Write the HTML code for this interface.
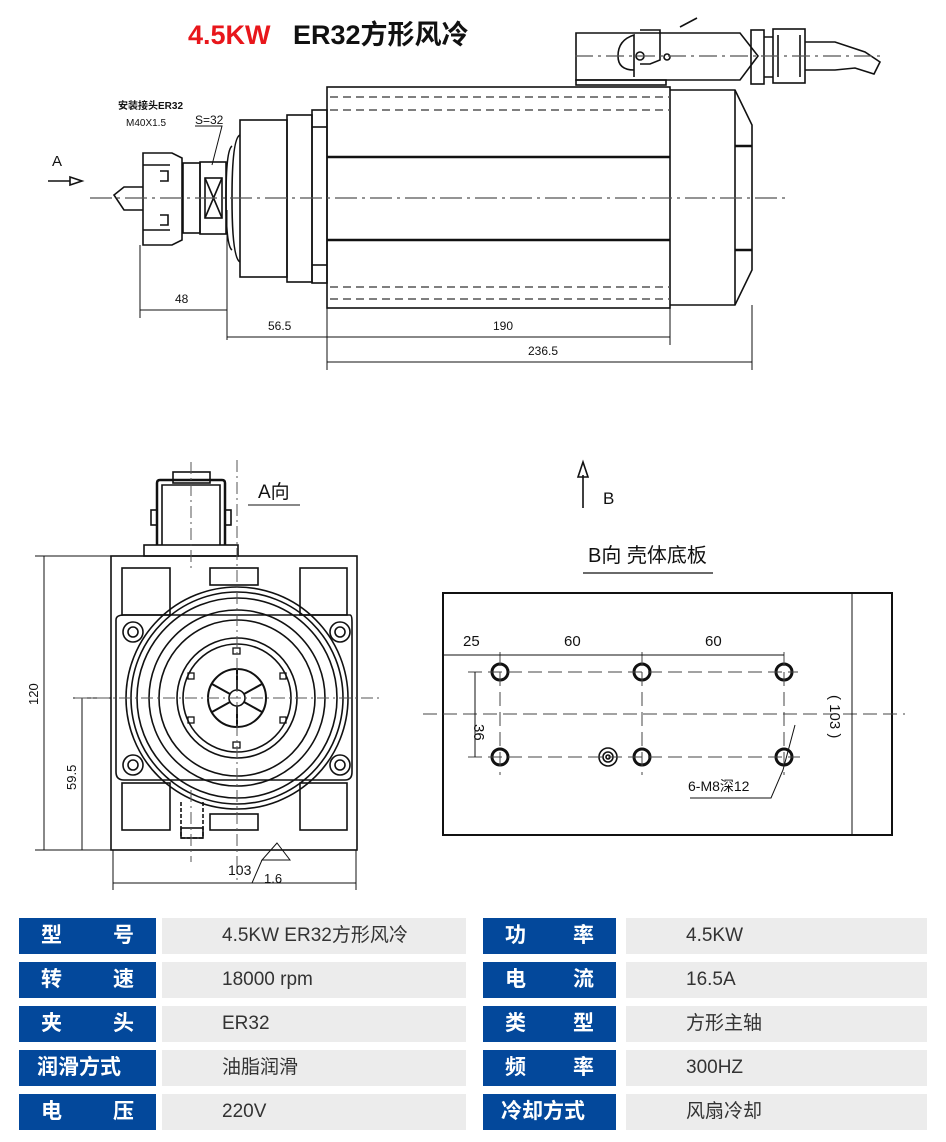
<!DOCTYPE html>
<html><head><meta charset="utf-8"><style>
body{margin:0;background:#fff;width:946px;height:1142px;overflow:hidden;position:relative;font-family:"Liberation Sans","Noto Sans CJK SC",sans-serif}
svg{position:absolute;left:0;top:0}
.t{position:absolute;height:36px;line-height:36px;font-size:19px}
.l{background:#03489b;color:#fff;font-weight:bold;font-size:21px;box-sizing:border-box;padding:0 22px;display:flex;justify-content:space-between}
.v{background:#ececec;color:#333;padding-left:60px;box-sizing:border-box}
</style></head><body>
<svg width="946" height="900" viewBox="0 0 946 900" font-family="Liberation Sans Narrow,Liberation Sans,Noto Sans CJK SC,sans-serif">
<text x="188" y="44" font-size="27" font-weight="bold" fill="#e8161b" font-family="Liberation Sans,sans-serif">4.5KW</text>
<text x="293" y="44" font-size="27" font-weight="bold" fill="#111" font-family="Liberation Sans,Noto Sans CJK SC,sans-serif">ER32方形风冷</text>
<g stroke="#111" fill="none" stroke-width="1.6">
<!-- top view body -->
<rect x="327" y="87" width="343" height="221"/>
<line x1="327" y1="157" x2="670" y2="157" stroke-width="2.5"/>
<line x1="327" y1="240" x2="670" y2="240" stroke-width="2.5"/>
<g stroke-dasharray="8,5" stroke="#555"><line x1="330" y1="97" x2="670" y2="97"/><line x1="330" y1="110" x2="670" y2="110"/><line x1="330" y1="287" x2="670" y2="287"/><line x1="330" y1="299" x2="670" y2="299"/></g>
<path d="M670 90 H735 L752 125 V270 L735 305 H670"/>
<line x1="735" y1="90" x2="735" y2="305"/>
<line x1="735" y1="146" x2="752" y2="146" stroke-width="2.5"/><line x1="735" y1="250" x2="752" y2="250" stroke-width="2.5"/>
<rect x="312" y="110" width="15" height="173"/>
<line x1="312" y1="127" x2="327" y2="127"/><line x1="312" y1="265" x2="327" y2="265"/>
<rect x="287" y="115" width="25" height="167"/>
<rect x="240" y="120" width="47" height="157"/>
<path d="M240 135 Q232 138 232 198 Q232 258 240 262"/>
<path d="M232 146 Q226 150 226 198 Q226 246 232 250"/>
<rect x="200" y="162" width="26" height="72"/><path d="M205 178 L222 218 M222 178 L205 218"/><rect x="205" y="178" width="17" height="40"/>
<rect x="183" y="163" width="17" height="70"/>
<path d="M143 153 H172 L182 158 V240 L172 245 H143 Z"/>
<line x1="143" y1="165" x2="170" y2="165"/><line x1="143" y1="230" x2="170" y2="230"/>
<path d="M160 171 H168 V181 H160 M160 215 H168 V225 H160"/>
<path d="M143 187 H124 L114 195 L124 210 H143"/>
<!-- connector -->
<path d="M576 80 V33 H740 L758 56 L740 80 Z"/>
<rect x="751" y="30" width="13" height="54"/><rect x="773" y="29" width="32" height="54"/>
<path d="M764 37 H773 M764 77 H773 M778 35 V77 M800 35 V77"/>
<path d="M805 42 L835 42 L865 52 L880 62 L874 74 L855 68 L835 70 L805 70"/>
<path d="M634 77 V35 Q618 40 618 56 Q618 70 634 70 M640 30 H660 V60 L650 64 H640"/>
<circle cx="640" cy="56" r="4"/><circle cx="667" cy="57" r="3"/>
<line x1="680" y1="27" x2="697" y2="18"/>
<rect x="576" y="80" width="90" height="5"/>
<!-- centerline -->
<line x1="90" y1="198" x2="790" y2="198" stroke="#555" stroke-dasharray="22,5,3,5" stroke-width="1.2"/>
<line x1="575" y1="56" x2="880" y2="56" stroke="#555" stroke-dasharray="18,5,3,5" stroke-width="1.2"/>
<!-- A arrow -->
<path d="M48 181 H70 M70 177 L82 181 L70 185 Z"/>
<!-- dims -->
<g stroke-width="1">
<line x1="140" y1="245" x2="140" y2="318"/><line x1="227" y1="210" x2="227" y2="340"/>
<line x1="140" y1="310" x2="227" y2="310"/>
<line x1="327" y1="308" x2="327" y2="370"/><line x1="670" y1="308" x2="670" y2="345"/><line x1="752" y1="305" x2="752" y2="370"/>
<line x1="227" y1="337" x2="327" y2="337"/><line x1="327" y1="337" x2="670" y2="337"/><line x1="327" y1="362" x2="752" y2="362"/>
</g>
<!-- S=32 leader -->
<path d="M195 126 H222 L212 165" stroke-width="1"/>
</g>
<g fill="#111" font-size="13">
<text x="52" y="166" font-size="15">A</text>
<text x="175" y="303" font-size="12">48</text>
<text x="268" y="330" font-size="12">56.5</text>
<text x="493" y="330" font-size="12">190</text>
<text x="528" y="355" font-size="12">236.5</text>
<text x="195" y="124" font-size="12">S=32</text>
<text x="118" y="109" font-size="10" font-weight="bold">安装接头ER32</text>
<text x="126" y="126" font-size="10">M40X1.5</text>
</g>

<!-- A view -->
<g stroke="#111" fill="none" stroke-width="1.6">
<rect x="111" y="556" width="246" height="294"/>
<rect x="122" y="568" width="48" height="47"/><rect x="210" y="568" width="48" height="17"/><rect x="300" y="568" width="47" height="47"/>
<rect x="122" y="783" width="48" height="47"/><rect x="210" y="814" width="48" height="16"/><rect x="300" y="783" width="47" height="47"/>
<path d="M116 620 Q116 615 124 615 H350 Q352 615 352 622 V772 Q352 780 345 780 H124 Q116 780 116 772 Z"/>
<circle cx="237" cy="698" r="111"/><circle cx="237" cy="698" r="106"/><circle cx="237" cy="698" r="100"/><circle cx="237" cy="698" r="88"/><circle cx="237" cy="698" r="78"/>
<circle cx="237" cy="698" r="60"/><circle cx="237" cy="698" r="54"/><circle cx="237" cy="698" r="29" stroke-width="2"/><circle cx="237" cy="698" r="8"/>
<path d="M237 690 V669 M237 706 V727 M244 694 L262 684 M230 694 L212 684 M244 702 L262 712 M230 702 L212 712" stroke-width="2"/>
<g stroke-width="1.3"><rect x="233" y="648" width="7" height="6"/><rect x="233" y="742" width="7" height="6"/><rect x="188" y="673" width="6" height="6"/><rect x="280" y="673" width="6" height="6"/><rect x="188" y="717" width="6" height="6"/><rect x="280" y="717" width="6" height="6"/></g>
<g><circle cx="133" cy="632" r="10"/><circle cx="133" cy="632" r="5"/><circle cx="340" cy="632" r="10"/><circle cx="340" cy="632" r="5"/><circle cx="133" cy="765" r="10"/><circle cx="133" cy="765" r="5"/><circle cx="340" cy="765" r="10"/><circle cx="340" cy="765" r="5"/></g>
<rect x="173" y="472" width="37" height="11"/>
<path d="M157 545 V483 Q157 480 160 480 H222 Q225 480 225 483 V545" stroke-width="2.5"/>
<path d="M162 545 V485 H220 V545"/>
<rect x="144" y="545" width="94" height="11"/>
<rect x="151" y="510" width="6" height="15"/><rect x="225" y="510" width="6" height="15"/>
<path d="M181 802 V838 H203 V802" stroke-dasharray="4,2"/>
<rect x="181" y="828" width="22" height="10"/>
<g stroke-width="1">
<line x1="35" y1="556" x2="111" y2="556"/><line x1="35" y1="850" x2="111" y2="850"/>
<line x1="44" y1="556" x2="44" y2="850"/><line x1="82" y1="698" x2="82" y2="850"/>
<line x1="73" y1="698" x2="111" y2="698"/>
<line x1="113" y1="850" x2="113" y2="890"/><line x1="356" y1="850" x2="356" y2="890"/>
<line x1="113" y1="883" x2="356" y2="883"/>
<path d="M277 843 L262 860 H290 Z M262 860 L252 883"/>
<line x1="248" y1="505" x2="300" y2="505"/>
</g>
<g stroke="#555" stroke-width="1" stroke-dasharray="12,4,2,4"><line x1="75" y1="698" x2="382" y2="698"/><line x1="237" y1="460" x2="237" y2="880"/><line x1="191" y1="462" x2="191" y2="570"/><line x1="191" y1="790" x2="191" y2="862"/></g>
</g>
<g fill="#111">
<text x="258" y="498" font-size="19">A向</text>
<text x="228" y="875" font-size="14">103</text>
<text x="264" y="883" font-size="13">1.6</text>
<text transform="translate(38,705) rotate(-90)" font-size="13">120</text>
<text transform="translate(76,790) rotate(-90)" font-size="13">59.5</text>
</g>

<!-- B view -->
<g stroke="#111" fill="none" stroke-width="1.6">
<rect x="443" y="593" width="449" height="242" stroke-width="2"/>
<path d="M583 508 V475 M578 477 L583 462 L588 477 Z"/>
<line x1="583" y1="573" x2="713" y2="573" stroke-width="1.3"/>
<g stroke-width="3"><circle cx="500" cy="672" r="8"/><circle cx="642" cy="672" r="8"/><circle cx="784" cy="672" r="8"/><circle cx="500" cy="757" r="8"/><circle cx="642" cy="757" r="8"/><circle cx="784" cy="757" r="8"/></g>
<circle cx="608" cy="757" r="9"/><circle cx="608" cy="757" r="5"/><circle cx="608" cy="757" r="2"/>
<g stroke="#444" stroke-width="1" stroke-dasharray="14,6">
<line x1="468" y1="672" x2="798" y2="672"/><line x1="468" y1="757" x2="800" y2="757"/>
<line x1="500" y1="652" x2="500" y2="775"/><line x1="642" y1="652" x2="642" y2="775"/><line x1="784" y1="652" x2="784" y2="775"/>
<line x1="423" y1="714" x2="905" y2="714"/>
</g>
<g stroke-width="1">
<line x1="443" y1="655" x2="784" y2="655"/><line x1="475" y1="672" x2="475" y2="757"/>
<line x1="852" y1="593" x2="852" y2="835"/>
<path d="M795 725 L783 770 L771 798 H690"/>
</g>
</g>
<g fill="#111">
<text x="603" y="504" font-size="17">B</text>
<text x="588" y="562" font-size="20">B向 壳体底板</text>
<text x="463" y="646" font-size="15">25</text>
<text x="564" y="646" font-size="15">60</text>
<text x="705" y="646" font-size="15">60</text>
<text transform="translate(474,724) rotate(90)" font-size="15">36</text>
<text transform="translate(830,695) rotate(90)" font-size="15">( 103 )</text>
<text x="688" y="791" font-size="14">6-M8深12</text>
</g>
</svg>

<div class="t l" style="left:19px;top:918px;width:137px"><span>型</span><span>号</span></div>
<div class="t v" style="left:162px;top:918px;width:304px">4.5KW ER32方形风冷</div>
<div class="t l" style="left:483px;top:918px;width:133px"><span>功</span><span>率</span></div>
<div class="t v" style="left:626px;top:918px;width:301px">4.5KW</div>

<div class="t l" style="left:19px;top:962px;width:137px"><span>转</span><span>速</span></div>
<div class="t v" style="left:162px;top:962px;width:304px">18000 rpm</div>
<div class="t l" style="left:483px;top:962px;width:133px"><span>电</span><span>流</span></div>
<div class="t v" style="left:626px;top:962px;width:301px">16.5A</div>

<div class="t l" style="left:19px;top:1006px;width:137px"><span>夹</span><span>头</span></div>
<div class="t v" style="left:162px;top:1006px;width:304px">ER32</div>
<div class="t l" style="left:483px;top:1006px;width:133px"><span>类</span><span>型</span></div>
<div class="t v" style="left:626px;top:1006px;width:301px">方形主轴</div>

<div class="t l" style="left:19px;top:1050px;width:137px;padding:0 18px"><span>润滑方式</span></div>
<div class="t v" style="left:162px;top:1050px;width:304px">油脂润滑</div>
<div class="t l" style="left:483px;top:1050px;width:133px"><span>频</span><span>率</span></div>
<div class="t v" style="left:626px;top:1050px;width:301px">300HZ</div>

<div class="t l" style="left:19px;top:1094px;width:137px"><span>电</span><span>压</span></div>
<div class="t v" style="left:162px;top:1094px;width:304px">220V</div>
<div class="t l" style="left:483px;top:1094px;width:133px;padding:0 18px"><span>冷却方式</span></div>
<div class="t v" style="left:626px;top:1094px;width:301px">风扇冷却</div>
</body></html>
